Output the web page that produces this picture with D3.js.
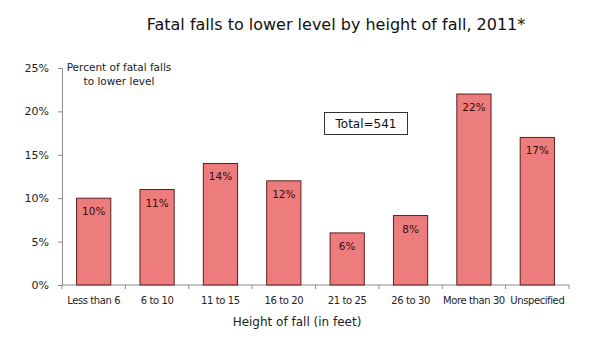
<!DOCTYPE html>
<html><head><meta charset="utf-8">
<script src="https://cdn.jsdelivr.net/npm/d3@7"></script>
<style>body{margin:0;background:#fff}svg{display:block}text{font-family:"DejaVu Sans",Verdana,sans-serif}</style>
</head><body>
<svg id="c" width="600" height="339"></svg>
<script>
const categories = ["Less than 6","6 to 10","11 to 15","16 to 20","21 to 25","26 to 30","More than 30","Unspecified"];
const values = [10,11,14,12,6,8,22,17];
const yTicks = [0,5,10,15,20,25];

const svg = d3.select("#c");
const x = d3.scaleBand().domain(categories).range([62,569]).paddingInner(0.46).paddingOuter(0.23);
const y = d3.scaleLinear().domain([0,25]).range([285,68]);

// y axis
const ya = svg.append("g").attr("transform","translate(62,0)")
  .call(d3.axisLeft(y).tickValues(yTicks).tickSize(4).tickFormat(d=>d+"%"));
ya.selectAll("path,line").attr("stroke","#8c8c8c");
ya.selectAll("text").attr("font-size",11).attr("fill","#222").attr("x",-13);

// x axis
const xb = d3.scaleLinear().domain([0,categories.length]).range([62,569]);
const xa = svg.append("g").attr("transform","translate(0,285)");
xa.append("line").attr("x1",62).attr("x2",569).attr("stroke","#8c8c8c");
xa.selectAll("line.t").data(d3.range(categories.length+1)).join("line")
  .attr("x1",d=>xb(d)).attr("x2",d=>xb(d)).attr("y1",0).attr("y2",4).attr("stroke","#8c8c8c");
xa.selectAll("text").data(categories).join("text")
  .attr("x",d=>x(d)+x.bandwidth()/2).attr("y",19).attr("text-anchor","middle")
  .attr("letter-spacing",-0.4)
  .attr("font-size",10).attr("fill","#222").text(d=>d);

// bars
svg.selectAll("rect.bar").data(values).join("rect").attr("class","bar")
  .attr("x",(d,i)=>x(categories[i])).attr("width",x.bandwidth())
  .attr("y",d=>y(d)).attr("height",d=>y(0)-y(d))
  .attr("fill","#ed7d7d").attr("stroke","#5a2020").attr("stroke-width",1);
svg.selectAll("text.lbl").data(values).join("text").attr("class","lbl")
  .attr("x",(d,i)=>x(categories[i])+x.bandwidth()/2).attr("y",d=>y(d)+17)
  .attr("text-anchor","middle").attr("font-size",10.5).attr("fill","#3a0a0a").text(d=>d+"%");

// titles
svg.append("text").attr("x",336).attr("y",30).attr("text-anchor","middle")
  .attr("font-size",16).attr("fill","#111").text("Fatal falls to lower level by height of fall, 2011*");
svg.append("text").attr("x",119).attr("y",71).attr("text-anchor","middle")
  .attr("font-size",10.5).attr("fill","#222").text("Percent of fatal falls");
svg.append("text").attr("x",119).attr("y",85).attr("text-anchor","middle")
  .attr("font-size",10.5).attr("fill","#222").text("to lower level");
svg.append("text").attr("x",297).attr("y",326).attr("text-anchor","middle")
  .attr("font-size",12).attr("fill","#222").text("Height of fall (in feet)");

// total box
svg.append("rect").attr("x",324.5).attr("y",112.5).attr("width",83).attr("height",22)
  .attr("fill","#fff").attr("stroke","#333");
svg.append("text").attr("x",366).attr("y",128).attr("text-anchor","middle")
  .attr("font-size",12).attr("fill","#111").text("Total=541");
</script>
</body></html>
